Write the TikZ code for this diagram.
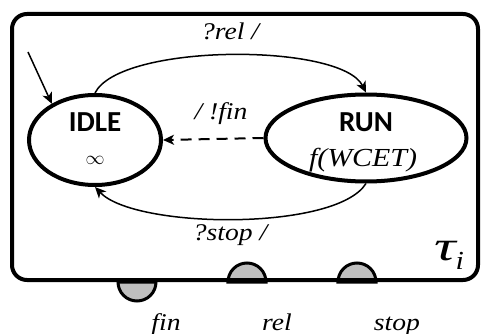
\documentclass[tikz,border=0pt]{standalone}
\usepackage{fontspec}
\usepackage{graphicx}
\usetikzlibrary{shapes.geometric,arrows.meta}
\newfontfamily\statefont{Carlito}
\newfontfamily\labfont{Liberation Serif Italic}[FakeStretch=1.15]
\begin{document}
\begin{tikzpicture}[x=1pt,y=-1pt,
  state/.style={ellipse,draw,line width=4pt,inner sep=0pt},
  statename/.style={font=\fontsize{29}{29}\selectfont\statefont\bfseries,inner sep=0pt},
  trans/.style={line width=1.5pt,-{Stealth[length=11pt,width=10pt,inset=3pt]}},
  lbl/.style={font=\fontsize{24}{24}\selectfont\labfont,inner sep=0pt,anchor=base},
  port/.style={line width=3pt,fill=black!25}
]
\useasboundingbox (0,0) rectangle (482,334);

% interface ports on the task border
\coordinate (pfin) at (137,282);
\coordinate (prel) at (247,282);
\coordinate (pstop) at (357,282);
\draw[port] ([xshift=-19pt]pfin) arc[start angle=180,end angle=360,radius=19pt] -- cycle;
\draw[port] ([xshift=-19pt]prel) arc[start angle=180,end angle=0,radius=19pt] -- cycle;
\draw[port] ([xshift=-19pt]pstop) arc[start angle=180,end angle=0,radius=19pt] -- cycle;

% task automaton frame
\node[draw,line width=4pt,rounded corners=15pt,minimum width=466pt,minimum height=266pt,inner sep=0pt] (task) at (245,147) {};

% states
\node[state,minimum width=132pt,minimum height=90pt] (idle) at (95,140) {};
\node[state,minimum width=201pt,minimum height=87pt] (run) at (366,138) {};
\node[statename] (idlename) at (95,122) {IDLE};
\node[inner sep=0pt] (idletime) at (95,160) {\scalebox{1.9}{$\infty$}};
\node[statename] (runname) at (366,122) {RUN};
\node[font=\fontsize{26}{26}\selectfont\labfont,inner sep=0pt] (runtime) at (363,160) {f(WCET)};

% transitions
\coordinate (init) at (28,52);
\draw[trans] (init) -- (idle.140);
\draw[trans] (idle.north) .. controls +(25,-50) and +(-25,-50) .. (run.north);
\draw[trans] (run.south) .. controls +(-30,48) and +(40,42) .. (idle.south);
\draw[trans,line width=2pt,dash pattern=on 11pt off 7pt] (run.west) -- (idle.east);

% transition labels
\node[lbl] (lrel) at (230,40) {?rel /};
\node[lbl] (lfin) at (221,120) {/ !fin};
\node[lbl] (lstop) at (230,240) {?stop /};

% port names
\node[lbl] (nfin) at (166,330) {fin};
\node[lbl] (nrel) at (277,330) {rel};
\node[lbl] (nstop) at (397,330) {stop};

% task name
\node[inner sep=0pt] (tau) at (449,255) {\scalebox{1.25}[1]{\fontsize{42}{42}\selectfont\labfont τ}\raisebox{-9pt}{\fontsize{26}{26}\selectfont\labfont i}};
\end{tikzpicture}
\end{document}
